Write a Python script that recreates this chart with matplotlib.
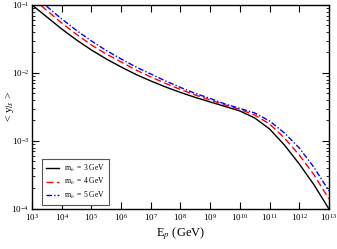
import numpy as np
import matplotlib
matplotlib.use("Agg")
import matplotlib.pyplot as plt

plt.rcParams['font.family'] = ['Liberation Serif', 'DejaVu Serif']
plt.rcParams['mathtext.fontset'] = 'stix'

# log10(E_p / GeV)
logE = [3, 3.5, 4, 4.5, 5, 5.5, 6, 6.5, 7, 7.5, 8, 8.5, 9, 9.5, 10, 10.5, 11, 11.5, 12, 12.5, 13]
# log10(<y_ls>) for the three masses
y_m3 = [-1.000, -1.176, -1.353, -1.515, -1.662, -1.794, -1.912, -2.022, -2.118, -2.206, -2.287,
        -2.360, -2.426, -2.493, -2.559, -2.662, -2.824, -3.059, -3.338, -3.647, -4.000]
y_m4 = [-0.897, -1.081, -1.265, -1.434, -1.588, -1.721, -1.838, -1.956, -2.059, -2.154, -2.243,
        -2.324, -2.397, -2.471, -2.537, -2.618, -2.750, -2.956, -3.206, -3.500, -3.853]
y_m5 = [-0.838, -1.022, -1.206, -1.375, -1.529, -1.669, -1.794, -1.912, -2.015, -2.118, -2.213,
        -2.301, -2.375, -2.456, -2.522, -2.588, -2.706, -2.882, -3.103, -3.390, -3.735]

E = 10.0 ** np.array(logE)

fig = plt.figure(figsize=(3.37, 2.49), dpi=100)
ax = fig.add_axes([0.095, 0.161, 0.881, 0.819])

ax.plot(E, 10.0 ** np.array(y_m3), color='black', lw=1.0, label='m$_b$  = 3 GeV')
ax.plot(E, 10.0 ** np.array(y_m4), color='red', lw=1.0, ls=(0, (5, 2.5)), label='m$_b$  = 4 GeV')
ax.plot(E, 10.0 ** np.array(y_m5), color='blue', lw=1.0, ls=(0, (4, 1.5, 1, 1.5)), label='m$_b$  = 5 GeV')

ax.set_xscale('log')
ax.set_yscale('log')
ax.set_xlim(1e3, 1e13)
ax.set_ylim(1e-4, 1e-1)
ax.set_xticks(10.0 ** np.arange(3, 14))
ax.set_yticks([1e-4, 1e-3, 1e-2, 1e-1])

ax.tick_params(which='both', direction='in', top=True, right=True, labelsize=6.5, pad=2)
ax.tick_params(which='major', length=5, width=0.8)
ax.tick_params(which='minor', length=2.5, width=0.6)
for s in ax.spines.values():
    s.set_linewidth(1.0)

ax.set_xlabel('E$_p$ (GeV)', fontsize=9, labelpad=2)
ax.set_ylabel('< y$_{ls}$ >', fontsize=8)
ax.yaxis.set_label_coords(-0.055, 0.5)

leg = ax.legend(loc='lower left', bbox_to_anchor=(0.02, 0.0), fontsize=5.5,
                fancybox=False, edgecolor='#555555', framealpha=1,
                handlelength=1.8, handletextpad=0.6, borderpad=0.5, labelspacing=0.35)
leg.get_frame().set_linewidth(0.8)

fig.savefig('out.png', dpi=100)
